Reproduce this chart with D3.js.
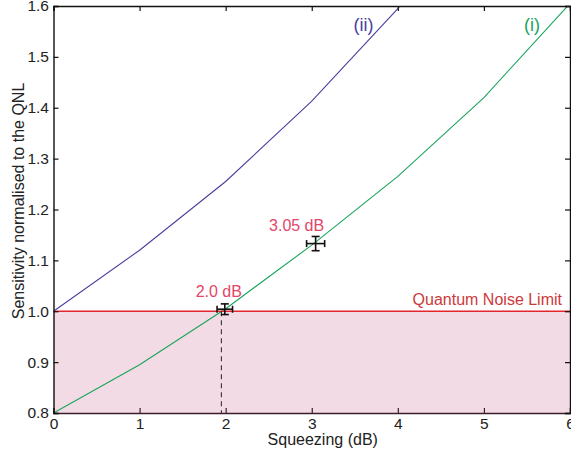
<!DOCTYPE html>
<html lang="en">
<head>
<meta charset="UTF-8">
<title>Sensitivity vs squeezing</title>
<script src="https://d3js.org/d3.v7.min.js"></script>
<style>
  body { margin: 0; background: #fff; }
  svg text { font-family: "Liberation Sans", Arial, sans-serif; }
</style>
</head>
<body>
<div id="chart"></div>
<script>
  // data
  const squeezing = [0, 1, 2, 3, 4, 5, 6];
  const curveI = [0.8, 0.895, 1.005, 1.13, 1.265, 1.42, 1.605];
  const curveII = [1.0, 1.12, 1.255, 1.413, 1.595, 1.81, 2.05];
  const xTicks = [0, 1, 2, 3, 4, 5, 6];
  const yTicks = [0.8, 0.9, 1.0, 1.1, 1.2, 1.3, 1.4, 1.5, 1.6];
  const qnl = 1.0;
  const cutoff = 1.95;
  // measured points: x, y, x error, y error, label
  const points = [
    { x: 1.99, y: 1.004, ex: 0.09, ey: 0.0105, label: "2.0 dB" },
    { x: 3.045, y: 1.133, ex: 0.105, ey: 0.014, label: "3.05 dB" }
  ];
  // label placement relative to each point (px)
  const labelShift = [-6, -19];

  const W = 571, H = 456;
  const margin = { top: 6, right: 1, bottom: 43, left: 53.5 };
  const w = W - margin.left - margin.right;
  const h = H - margin.top - margin.bottom;

  const svg = d3.select("#chart").append("svg")
    .attr("width", W).attr("height", H);
  const g = svg.append("g")
    .attr("transform", "translate(" + margin.left + "," + margin.top + ")");

  const x = d3.scaleLinear().domain([0, 6]).range([0, w]);
  const y = d3.scaleLinear().domain([0.8, 1.6]).range([h, 0]);

  g.append("defs").append("clipPath").attr("id", "clip")
    .append("rect").attr("width", w).attr("height", h);

  // shaded region below the QNL
  g.append("rect")
    .attr("x", 0).attr("y", y(qnl))
    .attr("width", w).attr("height", y(0.8) - y(qnl))
    .attr("fill", "#f3dbe6");

  const line = d3.line().x((d, i) => x(squeezing[i])).y(d => y(d));

  g.append("path").datum(curveII)
    .attr("clip-path", "url(#clip)")
    .attr("d", line).attr("fill", "none")
    .attr("stroke", "#4b3f9e").attr("stroke-width", 1.1);

  g.append("path").datum(curveI)
    .attr("clip-path", "url(#clip)")
    .attr("d", line).attr("fill", "none")
    .attr("stroke", "#19a45c").attr("stroke-width", 1.1);

  // QNL line
  g.append("line")
    .attr("x1", 0).attr("x2", w)
    .attr("y1", y(qnl)).attr("y2", y(qnl))
    .attr("stroke", "#e3262e").attr("stroke-width", 1.6);

  g.append("text")
    .attr("x", w - 8).attr("y", y(qnl) - 6.5)
    .attr("text-anchor", "end")
    .attr("font-size", 16).attr("fill", "#cc3a3a")
    .text("Quantum Noise Limit");

  // dashed drop line
  g.append("line")
    .attr("x1", x(cutoff)).attr("x2", x(cutoff))
    .attr("y1", y(qnl)).attr("y2", y(0.8))
    .attr("stroke", "#222").attr("stroke-width", 1)
    .attr("stroke-dasharray", "5,4");

  // error bars
  const eb = g.selectAll(".err").data(points).enter().append("g")
    .attr("class", "err").attr("stroke", "#111").attr("stroke-width", 1.6);
  eb.append("line")
    .attr("x1", d => x(d.x - d.ex)).attr("x2", d => x(d.x + d.ex))
    .attr("y1", d => y(d.y)).attr("y2", d => y(d.y));
  eb.append("line")
    .attr("x1", d => x(d.x)).attr("x2", d => x(d.x))
    .attr("y1", d => y(d.y - d.ey)).attr("y2", d => y(d.y + d.ey));
  [-1, 1].forEach(s => {
    eb.append("line")
      .attr("x1", d => x(d.x + s * d.ex)).attr("x2", d => x(d.x + s * d.ex))
      .attr("y1", d => y(d.y) - 3.5).attr("y2", d => y(d.y) + 3.5);
    eb.append("line")
      .attr("x1", d => x(d.x) - 4).attr("x2", d => x(d.x) + 4)
      .attr("y1", d => y(d.y + s * d.ey)).attr("y2", d => y(d.y + s * d.ey));
  });

  g.selectAll(".plabel").data(points).enter().append("text")
    .attr("class", "plabel")
    .attr("x", (d, i) => x(d.x) + labelShift[i]).attr("y", d => y(d.y) - 12.5)
    .attr("text-anchor", "middle")
    .attr("font-size", 16).attr("fill", "#e2456a")
    .text(d => d.label);

  // curve labels
  g.append("text").attr("x", x(3.6)).attr("y", 25)
    .attr("text-anchor", "middle").attr("font-size", 18).attr("fill", "#4b3f9e")
    .text("(ii)");
  g.append("text").attr("x", x(5.56)).attr("y", 25)
    .attr("text-anchor", "middle").attr("font-size", 18).attr("fill", "#19a45c")
    .text("(i)");

  // axes
  const xAxis = g.append("g").attr("transform", "translate(0," + h + ")")
    .call(d3.axisBottom(x).tickValues(xTicks).tickSize(-5).tickPadding(5).tickFormat(d3.format("d")));
  g.append("g")
    .call(d3.axisLeft(y).tickValues(yTicks).tickSize(-5).tickPadding(4.5).tickFormat(d3.format(".1f")));
  g.append("g").call(d3.axisTop(x).tickValues(xTicks).tickSize(-5).tickFormat(""));
  g.append("g").attr("transform", "translate(" + w + ",0)")
    .call(d3.axisRight(y).tickValues(yTicks).tickSize(-5).tickFormat(""));

  g.selectAll(".domain").attr("stroke", "#111").attr("stroke-width", 1.4);
  g.selectAll(".tick line").attr("stroke", "#111").attr("stroke-width", 1.2);
  xAxis.select(".domain").attr("stroke", "#3a1f2a");
  xAxis.selectAll(".tick line").attr("stroke", "#3a1f2a");
  g.selectAll(".tick text").attr("font-size", 15.5).attr("fill", "#222")
    .attr("font-family", "'Liberation Sans', Arial, sans-serif");

  // axis titles
  svg.append("text")
    .attr("x", margin.left + w / 2 + 11).attr("y", 445)
    .attr("text-anchor", "middle").attr("font-size", 16).attr("fill", "#222")
    .text("Squeezing (dB)");
  svg.append("text")
    .attr("transform", "translate(24,201) rotate(-90)")
    .attr("text-anchor", "middle").attr("font-size", 16).attr("fill", "#222")
    .text("Sensitivity normalised to the QNL");
</script>
</body>
</html>
